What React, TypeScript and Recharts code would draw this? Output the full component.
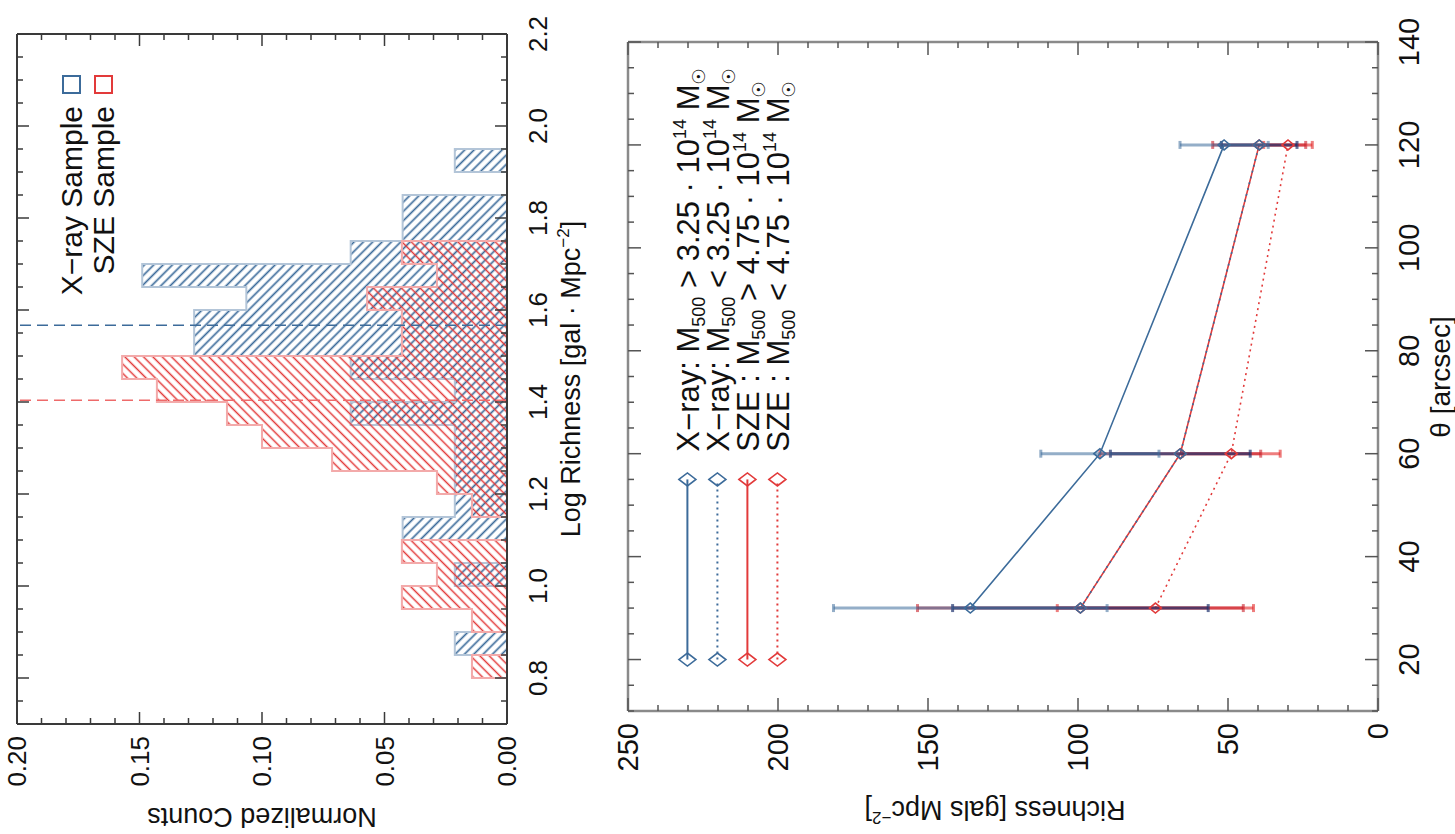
import React from 'react';
import {
  AreaChart,
  Area,
  LineChart,
  Line,
  XAxis,
  YAxis,
  ErrorBar,
  ReferenceLine,
  ReferenceDot,
} from 'recharts';

const FONT = '"Liberation Sans", Arial, Helvetica, "DejaVu Sans", sans-serif';
const BLUE = '#3c6b9a';
const RED = '#e23a3a';

// ---------- histogram (top panel before the page is turned) ----------
// left edge of each 0.05 bin, last entry closes the range
const binEdges = [0.70, 0.75, 0.80, 0.85, 0.90, 0.95, 1.00, 1.05, 1.10, 1.15, 1.20, 1.25, 1.30, 1.35, 1.40, 1.45,
  1.50, 1.55, 1.60, 1.65, 1.70, 1.75, 1.80, 1.85, 1.90, 1.95, 2.00, 2.05, 2.10, 2.15, 2.20];
const xrayCounts = [0, 0, 0, 0.0213, 0, 0, 0.0213, 0, 0.0426, 0.0213, 0.0213, 0.0213, 0.0213, 0.0638, 0.0213, 0.0638,
  0.1277, 0.1277, 0.1064, 0.1489, 0.0638, 0.0426, 0.0426, 0, 0.0213, 0, 0, 0, 0, 0, 0];
const szeCounts = [0, 0, 0.0143, 0, 0.0143, 0.0429, 0.0286, 0.0429, 0, 0.0143, 0.0286, 0.0714, 0.1, 0.1143, 0.1429, 0.1571,
  0.0429, 0.0429, 0.0571, 0.0286, 0.0429, 0, 0, 0, 0, 0, 0, 0, 0, 0, 0];
const xrayMedian = 1.567;
const szeMedian = 1.404;

const logTicks = [0.8, 1.0, 1.2, 1.4, 1.6, 1.8, 2.0, 2.2];
const countTicks = [0, 0.05, 0.1, 0.15, 0.2];

// ---------- richness profiles (bottom panel) ----------
const thetaValues = [30, 60, 120];
const xrayHigh = [135.9, 92.7, 51.3];
const xrayHighErr = [45.6, 19.7, 14.7];
const xrayLow = [99.2, 65.9, 39.6];
const xrayLowErr = [42.6, 23.3, 12.6];
const szeHigh = [99.2, 65.9, 39.6];
const szeHighErr = [54.3, 26.8, 15.5];
const szeLow = [74.2, 48.9, 30.0];
const szeLowErr = [32.7, 16.3, 8.1];

const thetaTicks = [20, 40, 60, 80, 100, 120, 140];
const profileTicks = [0, 50, 100, 150, 200, 250];

// legend drawn inside the plot, in data units
const legendThetaEnds = [20, 55];
const legendLevels = [230.2, 220.2, 210.2, 200.2];
const legendTextTheta = 60.4;

const steps = (from: number, to: number, step: number) => {
  const out: number[] = [];
  for (let v = from; v <= to + step / 2; v += step) out.push(Math.round(v * 1000) / 1000);
  return out;
};

type Side = 'bottom' | 'top' | 'left' | 'right';
interface TickStyle {
  major: number;
  minor: number;
  color: string;
  width: number;
  fontSize: number;
  gap: number;
}

const HIST_TICK: TickStyle = { major: 12, minor: 6, color: '#3a3a3a', width: 1.5, fontSize: 26, gap: 12 };
const HIST_TICK_X: TickStyle = { ...HIST_TICK, gap: 21 };
const PROF_TICK: TickStyle = { major: 13, minor: 6, color: '#555', width: 1.5, fontSize: 29, gap: 12 };
const PROF_TICK_X: TickStyle = { ...PROF_TICK, gap: 20 };

// inward ticks, longer on the labelled values
function makeTick(side: Side, majors: number[], st: TickStyle, fmt?: (v: number) => string) {
  return (props: any) => {
    const { x, y, payload } = props;
    const v = Number(payload.value);
    const isMajor = majors.some((m) => Math.abs(m - v) < 1e-6);
    const len = isMajor ? st.major : st.minor;
    const dx = side === 'left' ? len : side === 'right' ? -len : 0;
    const dy = side === 'bottom' ? -len : side === 'top' ? len : 0;
    let label = null;
    if (fmt && isMajor) {
      if (side === 'bottom') {
        label = (
          <text x={x} y={y + st.gap + st.fontSize * 0.72} textAnchor="middle" fontSize={st.fontSize} fontFamily={FONT} fill="#111">
            {fmt(v)}
          </text>
        );
      } else if (side === 'left') {
        label = (
          <text x={x - st.gap} y={y + st.fontSize * 0.36} textAnchor="end" fontSize={st.fontSize} fontFamily={FONT} fill="#111">
            {fmt(v)}
          </text>
        );
      }
    }
    return (
      <g>
        <line x1={x} y1={y} x2={x + dx} y2={y + dy} stroke={st.color} strokeWidth={st.width} />
        {label}
      </g>
    );
  };
}

const Diamond = ({ cx, cy, rx, ry, color, sw }: any) => {
  if (cx == null || cy == null) return null;
  return (
    <path
      d={`M${cx},${cy - ry}L${cx + rx},${cy}L${cx},${cy + ry}L${cx - rx},${cy}Z`}
      fill="none"
      stroke={color}
      strokeWidth={sw}
    />
  );
};

const LegendText = ({ cx, cy, prefix, cmp, mass }: any) => {
  const fs = 31;
  const small = 18;
  return (
    <text x={cx} y={cy + fs * 0.36} fontSize={fs} fontFamily={FONT} fill="#111">
      <tspan>{prefix + 'M'}</tspan>
      <tspan fontSize={small} dy={6}>500</tspan>
      <tspan dy={-6}>{` ${cmp} ${mass} · 10`}</tspan>
      <tspan fontSize={small} dy={-13}>14</tspan>
      <tspan dy={13}>{' M'}</tspan>
      <tspan fontSize={small} dy={6}>☉</tspan>
    </text>
  );
};

function Histogram() {
  const rows = binEdges.map((e, i) => ({ edge: e, xray: xrayCounts[i], sze: szeCounts[i] }));
  const logMinor = steps(0.7, 2.2, 0.05);
  const countMinor = steps(0, 0.2, 0.01);
  const frame = { stroke: '#3a3a3a', strokeWidth: 2 };
  return (
    <AreaChart width={834} height={600} data={rows} margin={{ top: 16, right: 33, bottom: 63, left: 50 }}>
      <defs>
        <pattern id="hatchXray" patternUnits="userSpaceOnUse" width={6.6} height={6.6} patternTransform="rotate(-45)">
          <line x1={3.3} y1={0} x2={3.3} y2={6.6} stroke={BLUE} strokeWidth={1.7} />
        </pattern>
        <pattern id="hatchSze" patternUnits="userSpaceOnUse" width={6.6} height={6.6} patternTransform="rotate(45)">
          <line x1={3.3} y1={0} x2={3.3} y2={6.6} stroke={RED} strokeWidth={1.5} />
        </pattern>
      </defs>
      <XAxis
        xAxisId="b"
        dataKey="edge"
        type="number"
        domain={[0.7, 2.2]}
        allowDataOverflow
        ticks={logMinor}
        interval={0}
        tickSize={0}
        tickMargin={0}
        tickLine={false}
        axisLine={frame}
        height={30}
        tick={makeTick('bottom', logTicks, HIST_TICK_X, (v) => v.toFixed(1))}
      />
      <XAxis
        xAxisId="t"
        orientation="top"
        dataKey="edge"
        type="number"
        domain={[0.7, 2.2]}
        allowDataOverflow
        ticks={logMinor}
        interval={0}
        tickSize={0}
        tickMargin={0}
        tickLine={false}
        axisLine={frame}
        height={1}
        tick={makeTick('top', logTicks, HIST_TICK)}
      />
      <YAxis
        yAxisId="l"
        type="number"
        domain={[0, 0.2]}
        allowDataOverflow
        ticks={countMinor}
        interval={0}
        tickSize={0}
        tickMargin={0}
        tickLine={false}
        axisLine={frame}
        width={60}
        tick={makeTick('left', countTicks, HIST_TICK, (v) => v.toFixed(2))}
      />
      <YAxis
        yAxisId="r"
        orientation="right"
        type="number"
        domain={[0, 0.2]}
        allowDataOverflow
        ticks={countMinor}
        interval={0}
        tickSize={0}
        tickMargin={0}
        tickLine={false}
        axisLine={frame}
        width={1}
        tick={makeTick('right', countTicks, HIST_TICK)}
      />
      <Area
        xAxisId="b"
        yAxisId="l"
        type="stepAfter"
        dataKey="xray"
        stroke="#b3c5d8"
        strokeWidth={2}
        fill="url(#hatchXray)"
        fillOpacity={1}
        dot={false}
        activeDot={false}
        isAnimationActive={false}
      />
      <Area
        xAxisId="b"
        yAxisId="l"
        type="stepAfter"
        dataKey="sze"
        stroke="#f3aaaa"
        strokeWidth={2}
        fill="url(#hatchSze)"
        fillOpacity={1}
        dot={false}
        activeDot={false}
        isAnimationActive={false}
      />
      <ReferenceLine xAxisId="b" yAxisId="l" x={xrayMedian} stroke={BLUE} strokeWidth={1.5} strokeDasharray="11 6" />
      <ReferenceLine xAxisId="b" yAxisId="l" x={szeMedian} stroke="#ee6a6a" strokeWidth={1.5} strokeDasharray="11 6" />
    </AreaChart>
  );
}

const profileSeries = [
  { key: 'sl', err: 'slErr', color: RED, dash: '2 4', errColor: 'rgba(226,40,40,0.6)', prefix: 'SZE : ', cmp: '<', mass: '4.75' },
  { key: 'sh', err: 'shErr', color: RED, dash: undefined, errColor: 'rgba(200,30,40,0.6)', prefix: 'SZE : ', cmp: '>', mass: '4.75' },
  { key: 'xl', err: 'xlErr', color: BLUE, dash: '2 4', errColor: 'rgba(30,50,110,0.7)', prefix: 'X−ray: ', cmp: '<', mass: '3.25' },
  { key: 'xh', err: 'xhErr', color: BLUE, dash: undefined, errColor: 'rgba(60,107,154,0.55)', prefix: 'X−ray: ', cmp: '>', mass: '3.25' },
];
// legend order from top to bottom
const legendOrder = ['xh', 'xl', 'sh', 'sl'];

function Profiles() {
  const rows = thetaValues.map((t, i) => ({
    theta: t,
    xh: xrayHigh[i],
    xhErr: xrayHighErr[i],
    xl: xrayLow[i],
    xlErr: xrayLowErr[i],
    sh: szeHigh[i],
    shErr: szeHighErr[i],
    sl: szeLow[i],
    slErr: szeLowErr[i],
  }));
  const thetaMinor = steps(10, 140, 5);
  const richMinor = steps(0, 250, 10);
  const frame = { stroke: '#8a8a8a', strokeWidth: 2.5 };
  return (
    <LineChart width={834} height={895} data={rows} margin={{ top: 67, right: 41, bottom: 47, left: 63 }}>
      <XAxis
        xAxisId="b"
        dataKey="theta"
        type="number"
        domain={[10, 140]}
        allowDataOverflow
        ticks={thetaMinor}
        interval={0}
        tickSize={0}
        tickMargin={0}
        tickLine={false}
        axisLine={frame}
        height={30}
        tick={makeTick('bottom', thetaTicks, PROF_TICK_X, (v) => String(v))}
      />
      <XAxis
        xAxisId="t"
        orientation="top"
        dataKey="theta"
        type="number"
        domain={[10, 140]}
        allowDataOverflow
        ticks={thetaMinor}
        interval={0}
        tickSize={0}
        tickMargin={0}
        tickLine={false}
        axisLine={frame}
        height={1}
        tick={makeTick('top', thetaTicks, PROF_TICK)}
      />
      <YAxis
        yAxisId="l"
        type="number"
        domain={[0, 250]}
        allowDataOverflow
        ticks={richMinor}
        interval={0}
        tickSize={0}
        tickMargin={0}
        tickLine={false}
        axisLine={frame}
        width={60}
        tick={makeTick('left', profileTicks, PROF_TICK, (v) => String(v))}
      />
      <YAxis
        yAxisId="r"
        orientation="right"
        type="number"
        domain={[0, 250]}
        allowDataOverflow
        ticks={richMinor}
        interval={0}
        tickSize={0}
        tickMargin={0}
        tickLine={false}
        axisLine={frame}
        width={1}
        tick={makeTick('right', profileTicks, PROF_TICK)}
      />
      {legendOrder.map((k, i) => {
        const s = profileSeries.find((p) => p.key === k)!;
        const level = legendLevels[i];
        return (
          <Line
            key={'leg-' + k}
            xAxisId="b"
            yAxisId="l"
            data={legendThetaEnds.map((t) => ({ theta: t, v: level }))}
            dataKey="v"
            type="linear"
            stroke={s.color}
            strokeWidth={2}
            strokeDasharray={s.dash}
            dot={(p: any) => <Diamond key={'ld' + k + p.index} cx={p.cx} cy={p.cy} rx={6.5} ry={8.5} color={s.color} sw={1.6} />}
            activeDot={false}
            isAnimationActive={false}
          />
        );
      })}
      {profileSeries.map((s) => (
        <Line
          key={s.key}
          xAxisId="b"
          yAxisId="l"
          dataKey={s.key}
          type="linear"
          stroke={s.color}
          strokeWidth={1.6}
          strokeDasharray={s.dash}
          dot={(p: any) => <Diamond key={'d' + s.key + p.index} cx={p.cx} cy={p.cy} rx={5} ry={6} color={s.color} sw={1.6} />}
          activeDot={false}
          isAnimationActive={false}
        >
          <ErrorBar dataKey={s.err} direction="y" width={4} strokeWidth={3} stroke={s.errColor} />
        </Line>
      ))}
      {legendOrder.map((k, i) => {
        const s = profileSeries.find((p) => p.key === k)!;
        return (
          <ReferenceDot
            key={'lt-' + k}
            xAxisId="b"
            yAxisId="l"
            x={legendTextTheta}
            y={legendLevels[i]}
            r={1}
            shape={(p: any) => <LegendText cx={p.cx} cy={p.cy} prefix={s.prefix} cmp={s.cmp} mass={s.mass} />}
          />
        );
      })}
    </LineChart>
  );
}

export default function App() {
  return (
    <div
      style={{
        position: 'absolute',
        left: 0,
        top: 0,
        width: 1455,
        height: 834,
        overflow: 'hidden',
        background: '#fff',
        fontFamily: FONT,
      }}
    >
      {/* the figure is laid out upright (834 x 1455) and turned a quarter counter-clockwise */}
      <div
        style={{
          position: 'absolute',
          left: 0,
          top: 834,
          width: 834,
          height: 1455,
          transformOrigin: '0 0',
          transform: 'rotate(-90deg)',
        }}
      >
        <div style={{ position: 'absolute', left: 0, top: 0 }}>
          <Histogram />
        </div>
        <div style={{ position: 'absolute', left: 0, top: 560 }}>
          <Profiles />
        </div>
        <svg width={834} height={1455} style={{ position: 'absolute', left: 0, top: 0, pointerEvents: 'none' }}>
          <g fontFamily={FONT} fill="#111">
            <text transform="translate(17,262) rotate(-90)" textAnchor="middle" y={9} fontSize={27}>
              Normalized Counts
            </text>
            <text x={455} y={580} textAnchor="middle" fontSize={27}>
              <tspan>Log Richness [gal · Mpc</tspan>
              <tspan fontSize={17} dy={-11}>−2</tspan>
              <tspan dy={11}>]</tspan>
            </text>
            <text x={728} y={82} textAnchor="end" fontSize={30}>X−ray Sample</text>
            <text x={728} y={114} textAnchor="end" fontSize={30}>SZE Sample</text>
            <rect x={741} y={63} width={17} height={17} fill="none" stroke={BLUE} strokeWidth={2} />
            <rect x={741} y={95} width={17} height={17} fill="none" stroke={RED} strokeWidth={2} />
            <text transform="translate(24,995) rotate(-90)" textAnchor="middle" y={9} fontSize={27}>
              <tspan>Richness [gals Mpc</tspan>
              <tspan fontSize={17} dy={-11}>−2</tspan>
              <tspan dy={11}>]</tspan>
            </text>
            <text x={457} y={1450} textAnchor="middle" fontSize={28}>θ [arcsec]</text>
          </g>
        </svg>
      </div>
    </div>
  );
}
